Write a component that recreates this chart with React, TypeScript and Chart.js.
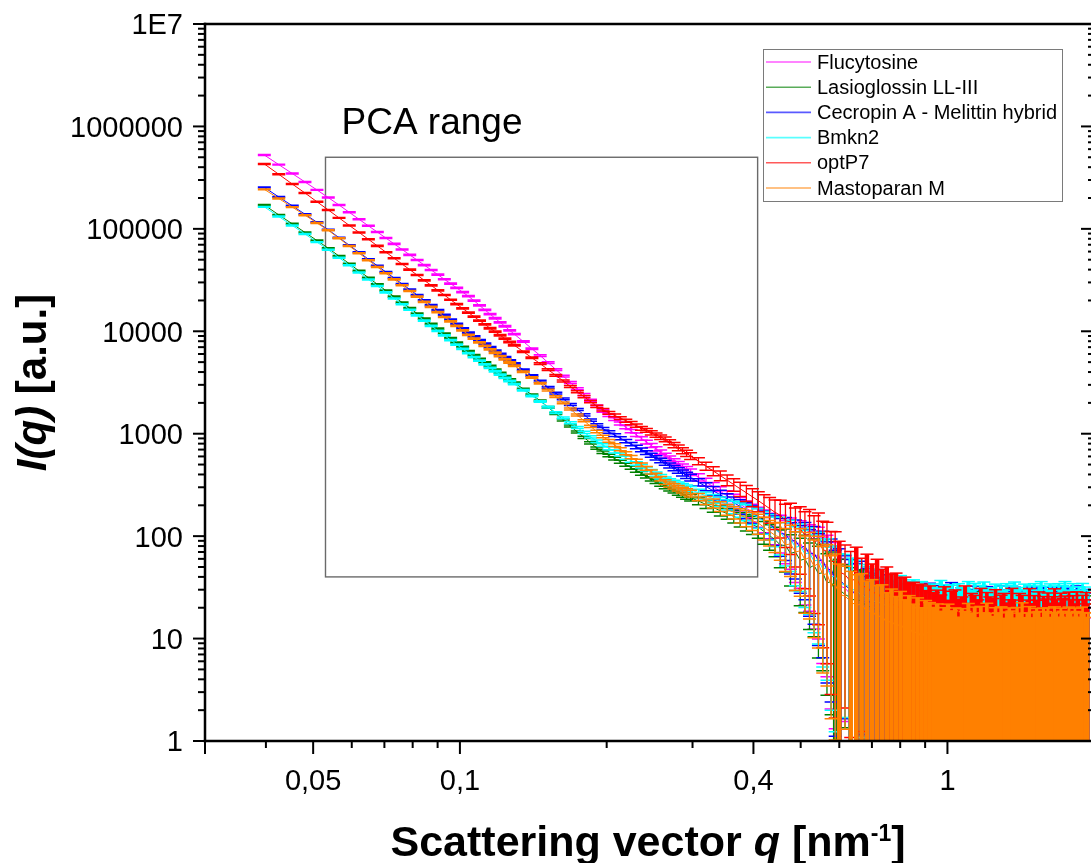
import { useEffect, useRef } from "react";
import { Chart, registerables } from "chart.js";

Chart.register(...registerables);

const FONT = "'Liberation Sans', Arial, Helvetica, sans-serif";

// Scattering vector q [nm^-1] (shared grid of all six curves)
const Q = [
  0.0397, 0.0425, 0.0453, 0.0481, 0.0509, 0.0537, 0.0565, 0.0593, 0.0621, 0.0649,
  0.0677, 0.0705, 0.0733, 0.0761, 0.0789, 0.0817, 0.0845, 0.0873, 0.0901, 0.0929,
  0.0957, 0.0985, 0.1013, 0.1041, 0.1069, 0.1097, 0.1125, 0.1153, 0.1181, 0.1209,
  0.1237, 0.1265, 0.1293,
  0.1349, 0.1405, 0.1461, 0.1517, 0.1573, 0.1629, 0.1685, 0.1741, 0.1797, 0.1853,
  0.1909, 0.1965, 0.2021, 0.2077, 0.2133, 0.2189, 0.2245, 0.2301, 0.2357, 0.2413,
  0.2469, 0.2525, 0.2581, 0.2637, 0.2693, 0.2749, 0.2805, 0.2861, 0.2917, 0.2973,
  0.3085, 0.3197, 0.3309, 0.3421, 0.3533, 0.3645, 0.3757, 0.3869, 0.3981, 0.4093,
  0.4205, 0.4317, 0.4429, 0.4541, 0.4653, 0.4765, 0.4877, 0.4989, 0.5101, 0.5213,
  0.5325, 0.5437, 0.5549, 0.5661, 0.5773, 0.5885, 0.5997,
  0.6165, 0.6333, 0.6501, 0.6669, 0.6837, 0.7005, 0.7173, 0.7341, 0.7509, 0.7677,
  0.7845, 0.8013, 0.8181, 0.8349, 0.8517, 0.8685, 0.8853, 0.9021, 0.9189, 0.9357,
  0.9525, 0.9693, 0.9861, 1.0029, 1.0197, 1.0365, 1.0533, 1.0701, 1.0869, 1.1037,
  1.1205, 1.1373, 1.1541, 1.1709, 1.1877, 1.2045, 1.2213, 1.2381, 1.2549, 1.2717,
  1.2885, 1.3053, 1.3221, 1.3389, 1.3557, 1.3725, 1.3893, 1.4061, 1.4229, 1.4397,
  1.4565, 1.4733, 1.4901, 1.5069, 1.5237, 1.5405, 1.5573, 1.5741, 1.5909, 1.6077,
  1.6245, 1.6413, 1.6581, 1.6749, 1.6917, 1.7085, 1.7253, 1.7421, 1.7589, 1.7757,
  1.7925, 1.8093, 1.8261, 1.8429, 1.8597, 1.8765, 1.8933, 1.9101, 1.9269, 1.9437,
];

// Relative uncertainty of I(q) at each q
const REL_ERR = [
  0.010, 0.010, 0.010, 0.010, 0.010, 0.011, 0.011, 0.011, 0.011, 0.011,
  0.012, 0.012, 0.012, 0.012, 0.012, 0.012, 0.013, 0.013, 0.013, 0.013,
  0.013, 0.013, 0.014, 0.014, 0.014, 0.014, 0.014, 0.015, 0.015, 0.015,
  0.015, 0.016, 0.016,
  0.016, 0.017, 0.018, 0.019, 0.020, 0.021, 0.022, 0.023, 0.024, 0.026,
  0.027, 0.028, 0.030, 0.032, 0.033, 0.035, 0.037, 0.039, 0.041, 0.043,
  0.046, 0.048, 0.051, 0.054, 0.057, 0.060, 0.063, 0.067, 0.071, 0.075,
  0.08, 0.09, 0.10, 0.11, 0.12, 0.14, 0.16, 0.18, 0.20, 0.22,
  0.25, 0.28, 0.32, 0.40, 0.45, 0.52, 0.58, 0.64, 0.70, 0.75,
  0.80, 0.85, 0.89, 0.92, 0.95, 0.97, 0.98,
  0.95, 0.97, 1.00, 0.96, 1.02, 0.98, 1.05, 0.97, 1.00, 1.03,
  0.98, 1.06, 0.99, 1.02, 0.97, 1.08, 1.00, 0.96, 1.04, 1.01,
  0.98, 1.05, 1.00, 0.97, 1.07, 0.99, 1.02, 0.96, 1.04, 1.00,
  0.97, 1.03, 0.99, 1.06, 0.98, 1.01, 0.96, 1.05, 1.00, 0.98,
  1.04, 0.97, 1.02, 0.99, 1.06, 0.98, 1.01, 0.97, 1.03, 1.00,
  0.98, 1.05, 0.99, 1.02, 0.97, 1.04, 1.00, 0.98, 1.03, 0.99,
  1.01, 0.97, 1.04, 0.99, 1.02, 0.98, 1.05, 1.00, 0.97, 1.03,
  0.99, 1.02, 0.98, 1.04, 1.00, 0.97, 1.03, 0.99, 1.01, 0.98,
];

// I(q) [a.u.] per sample
const FLUCYTOSINE = [
  526000, 424000, 347000, 287000, 240000,
  202000, 171000, 145000, 124000, 107000, 93100, 81300, 71300, 62900, 55700, 49600, 44300, 39700, 35700, 32200, 29200, 26500, 24100, 22000,
  19900, 17900, 16200, 14700, 13400, 12200, 11200, 10200, 9380, 7940, 6760,
  5790, 4940, 4230, 3650, 3160, 2750, 2410, 2110, 1860,
  1670, 1520, 1390, 1260, 1160, 1060, 976, 899, 829, 767, 711, 659, 613,
  573, 538, 505, 475, 448, 422, 376, 337, 303, 273, 248, 225, 205, 187, 171,
  157, 144, 131, 121, 114, 98, 99, 84, 86, 71, 74, 62, 66,
  52, 53, 41, 44, 33,
  31, 27, 29, 24, 22, 23, 19, 20, 17, 18,
  15, 16, 14, 15, 12, 14, 13, 11, 13, 12,
  10, 12, 11, 13, 9, 12, 11, 10, 13, 9,
  11, 12, 10, 8, 12, 11, 9, 13, 10, 11,
  9, 12, 10, 8, 11, 12, 9, 10, 13, 8,
  11, 10, 12, 9, 10, 11, 8, 12, 10, 9,
  11, 13, 9, 10, 8, 12, 11, 9, 10, 12,
  8, 11, 10, 9, 12, 10, 11, 8, 10, 12,
];

const LASIOGLOSSIN = [
  171000, 137000, 112000, 92300, 77000,
  64700, 54200, 45700, 38900, 33400, 28800, 25000, 21800, 19100, 16900, 14900, 13300, 11800, 10600, 9520, 8580, 7760, 7040, 6400,
  5860, 5380, 4960, 4580, 4230, 3920, 3640, 3380, 3150, 2740, 2400,
  2100, 1810, 1570, 1360, 1190, 1040, 920, 814, 723,
  660, 613, 571, 533, 498, 466, 437, 410, 386, 363, 343, 323, 306,
  292, 280, 268, 257, 247, 238, 220, 204, 190, 177, 166, 156, 146, 137, 130,
  122, 111, 101, 92.5, 82, 81, 68, 70, 58, 60, 49, 52, 43,
  44, 35, 36, 29, 30,
  27, 25, 23, 24, 20, 21, 18, 19, 17, 16,
  17, 15, 16, 14, 15, 13, 14, 15, 12, 14,
  13, 12, 14, 11, 13, 12, 14, 11, 13, 12,
  11, 13, 12, 14, 11, 12, 13, 10, 12, 13,
  12, 11, 13, 12, 10, 13, 12, 11, 14, 12,
  11, 13, 12, 10, 12, 13, 11, 12, 10, 13,
  12, 11, 13, 12, 11, 10, 13, 12, 11, 12,
  13, 11, 12, 10, 12, 13, 11, 12, 13, 11,
];

const CECROPIN_MELITTIN = [
  254000, 205000, 168000, 139000, 116000,
  97900, 82000, 69200, 59000, 50600, 43600, 37900, 33100, 29000, 25600, 22600, 20100, 18000, 16100, 14500, 13000, 11800, 10700, 9730,
  8920, 8210, 7570, 7000, 6480, 6010, 5580, 5190, 4840, 4220, 3710,
  3260, 2840, 2490, 2190, 1930, 1720, 1530, 1360, 1220,
  1120, 1040, 970, 905, 846, 791, 742, 697, 655, 617, 582, 549, 519,
  490, 463, 438, 415, 393, 373, 336, 305, 277, 253, 231, 212, 195, 180, 166,
  153, 141, 129, 119, 106, 105, 89, 91, 77, 80, 66, 69, 57,
  59, 46, 48, 37, 38,
  33, 30, 27, 29, 24, 22, 23, 20, 21, 18,
  19, 17, 18, 16, 17, 15, 16, 14, 17, 15,
  14, 16, 13, 15, 17, 14, 13, 16, 14, 15,
  13, 16, 14, 12, 15, 16, 13, 14, 15, 13,
  16, 14, 13, 15, 14, 16, 12, 15, 14, 13,
  15, 14, 16, 13, 14, 15, 13, 16, 14, 12,
  14, 15, 13, 16, 14, 13, 15, 14, 16, 13,
  15, 13, 14, 16, 13, 15, 14, 12, 15, 14,
];

const BMKN2 = [
  164000, 132000, 108000, 89100, 74300,
  62500, 52300, 44100, 37500, 32100, 27700, 24000, 20900, 18400, 16200, 14300, 12700, 11300, 10100, 9110, 8210, 7420, 6720, 6110,
  5600, 5160, 4760, 4400, 4070, 3780, 3510, 3270, 3050, 2660, 2340,
  2060, 1820, 1610, 1430, 1280, 1150, 1030, 932, 844,
  776, 720, 671, 626, 585, 547, 513, 482, 453, 427, 403, 380, 359,
  344, 331, 318, 306, 295, 284, 265, 247, 232, 217, 204, 192, 182, 172, 162,
  153, 139, 127, 116, 109, 93, 94, 78, 80, 67, 69, 57, 59,
  48, 49, 40, 41, 34,
  34, 31, 29, 27, 25, 24, 22, 23, 20, 21,
  19, 20, 18, 17, 19, 16, 18, 17, 15, 17,
  16, 18, 15, 17, 16, 14, 17, 16, 15, 18,
  15, 17, 14, 16, 18, 15, 16, 14, 17, 15,
  16, 15, 17, 14, 16, 18, 15, 16, 14, 17,
  15, 16, 14, 17, 15, 16, 18, 14, 16, 15,
  17, 15, 16, 14, 17, 15, 16, 18, 15, 14,
  16, 17, 15, 14, 16, 15, 17, 16, 14, 15,
];

const OPTP7 = [
  430000, 341000, 274000, 224000, 184000,
  153000, 128000, 108000, 92300, 79100, 68200, 59200, 51700, 45300, 40000, 35400, 31400, 28100, 25100, 22600, 20300, 18400, 16700, 15200,
  13900, 12700, 11700, 10700, 9910, 9150, 8470, 7850, 7300, 6320, 5510,
  4830, 4220, 3710, 3270, 2890, 2570, 2300, 2060, 1850,
  1710, 1600, 1510, 1420, 1340, 1270, 1200, 1130, 1080, 1020, 971, 924, 880,
  828, 776, 728, 684, 644, 606, 540, 482, 433, 390, 352, 319, 290, 265, 242,
  222, 203, 186, 171, 160, 141, 138, 119, 118, 102, 104, 88, 91,
  74, 71, 57, 56, 45,
  42, 36, 39, 31, 33, 27, 29, 24, 25, 21,
  22, 19, 20, 17, 18, 16, 17, 15, 16, 14,
  15, 13, 16, 12, 14, 15, 12, 13, 16, 11,
  14, 13, 12, 15, 11, 14, 13, 12, 15, 10,
  13, 14, 11, 12, 15, 12, 10, 14, 13, 11,
  12, 15, 11, 13, 12, 14, 10, 13, 12, 14,
  11, 13, 15, 12, 11, 14, 12, 13, 10, 14,
  12, 13, 11, 14, 12, 10, 13, 12, 14, 11,
];

const MASTOPARAN_M = [
  243000, 198000, 163000, 136000, 114000,
  96700, 80800, 68000, 57800, 49400, 42500, 36800, 32100, 28100, 24700, 21800, 19400, 17300, 15400, 13800, 12500, 11300, 10200, 9250,
  8480, 7810, 7200, 6660, 6170, 5720, 5310, 4950, 4610, 4030, 3540,
  3110, 2670, 2300, 2000, 1740, 1520, 1340, 1180, 1050,
  939, 851, 775, 706, 645, 591, 542, 498, 459, 424, 392, 363, 337,
  320, 307, 294, 282, 271, 261, 241, 224, 209, 195, 182, 171, 160, 151, 142,
  134, 122, 111, 102, 97, 82, 84, 70, 72, 59, 62, 51, 54,
  42, 43, 33, 34, 27,
  26, 23, 21, 22, 18, 19, 16, 17, 14, 15,
  13, 14, 12, 13, 11, 12, 10, 12, 11, 10,
  11, 9, 10, 11, 9, 10, 8, 10, 9, 11,
  9, 10, 8, 10, 9, 11, 9, 8, 10, 9,
  10, 8, 9, 10, 9, 8, 10, 9, 11, 8,
  9, 10, 8, 9, 10, 9, 8, 10, 9, 10,
  8, 9, 10, 9, 8, 10, 9, 8, 9, 10,
  9, 8, 10, 9, 8, 9, 10, 9, 8, 9,
];

const SERIES_VALUES = [FLUCYTOSINE, LASIOGLOSSIN, CECROPIN_MELITTIN, BMKN2, OPTP7, MASTOPARAN_M];
const SERIES_NAMES = ["Flucytosine", "Lasioglossin LL-III", "Cecropin A - Melittin hybrid", "Bmkn2", "optP7", "Mastoparan M"];
const SERIES_COLORS = ["#ff00ff", "#008000", "#0000ff", "#00ffff", "#ff0000", "#ff8000"];

const X_MIN = 0.03;
const X_MAX = 1.97;
const Y_MIN = 1;
const Y_MAX = 1e7;
const X_TICKS = [0.05, 0.1, 0.4, 1];
const X_TICK_LABELS = ["0,05", "0,1", "0,4", "1"];
const X_MINOR_TICKS = [0.04, 0.06, 0.07, 0.08, 0.09, 0.2, 0.3, 0.5, 0.6, 0.7, 0.8, 0.9];
const Y_TICKS = [1, 10, 100, 1000, 10000, 100000, 1000000, 10000000];
const Y_TICK_LABELS = ["1", "10", "100", "1000", "10000", "100000", "1000000", "1E7"];
const PCA_Q_RANGE = [0.053, 0.408];
const PCA_I_RANGE = [40, 500000];
const PCA_LABEL = "PCA range";

type Seg = { text: string; font: string; dy?: number };

function drawRich(ctx: CanvasRenderingContext2D, segs: Seg[], cx: number, by: number) {
  const widths = segs.map((s) => {
    ctx.font = s.font;
    return ctx.measureText(s.text).width;
  });
  const total = widths.reduce((a, b) => a + b, 0);
  let x = cx - total / 2;
  ctx.textAlign = "left";
  ctx.textBaseline = "alphabetic";
  segs.forEach((s, i) => {
    ctx.font = s.font;
    ctx.fillText(s.text, x, by + (s.dy || 0));
    x += widths[i];
  });
}

const decorPlugin = {
  id: "decor",
  beforeDatasetsDraw(chart: any) {
    const { ctx } = chart;
    const xs = chart.scales.x;
    const ys = chart.scales.y;
    const x1 = xs.getPixelForValue(PCA_Q_RANGE[0]);
    const x2 = xs.getPixelForValue(PCA_Q_RANGE[1]);
    const y1 = ys.getPixelForValue(PCA_I_RANGE[1]);
    const y2 = ys.getPixelForValue(PCA_I_RANGE[0]);
    ctx.save();
    ctx.strokeStyle = "#6a6a6a";
    ctx.lineWidth = 1.4;
    ctx.strokeRect(x1, y1, x2 - x1, y2 - y1);
    ctx.fillStyle = "#000";
    ctx.font = `37px ${FONT}`;
    ctx.textAlign = "left";
    ctx.textBaseline = "alphabetic";
    ctx.fillText(PCA_LABEL, x1 + 16, y1 - 23);
    ctx.restore();
  },
  afterDatasetDraw(chart: any, args: any) {
    const ds: any = chart.data.datasets[args.index];
    const { ctx, chartArea: ca } = chart;
    const xs = chart.scales.x;
    const ys = chart.scales.y;
    const pts = ds.data;
    const errs = ds.errors;
    ctx.save();
    ctx.beginPath();
    ctx.rect(ca.left, ca.top, ca.right - ca.left, ca.bottom - ca.top);
    ctx.clip();
    ctx.strokeStyle = ds.borderColor;
    ctx.lineCap = "butt";
    for (let i = 0; i < pts.length; i++) {
      const q = pts[i].x;
      const v = pts[i].y;
      const e = errs[i];
      const px = xs.getPixelForValue(q);
      const hi = v + e;
      const lo = v - e;
      const yTop = ys.getPixelForValue(hi);
      const clipped = lo <= Y_MIN;
      const yBot = clipped ? ca.bottom + 3 : ys.getPixelForValue(lo);
      const nb = i < pts.length - 1 ? xs.getPixelForValue(pts[i + 1].x) : 2 * px - xs.getPixelForValue(pts[i - 1].x);
      const dx = Math.abs(nb - px);
      ctx.lineWidth = clipped ? Math.min(4.5, Math.max(1.3, dx + 0.8)) : 1.3;
      ctx.beginPath();
      ctx.moveTo(px, yTop);
      ctx.lineTo(px, yBot);
      ctx.stroke();
      ctx.lineWidth = 1.5;
      ctx.beginPath();
      ctx.moveTo(px - 6.5, yTop);
      ctx.lineTo(px + 6.5, yTop);
      if (!clipped) {
        ctx.moveTo(px - 6.5, yBot);
        ctx.lineTo(px + 6.5, yBot);
      }
      ctx.stroke();
    }
    ctx.restore();
  },
  afterDraw(chart: any) {
    const { ctx, chartArea: ca } = chart;
    const xs = chart.scales.x;
    const ys = chart.scales.y;
    ctx.save();
    ctx.strokeStyle = "#000";
    const line = (a: number, b: number, c: number, d: number) => {
      ctx.beginPath();
      ctx.moveTo(a, b);
      ctx.lineTo(c, d);
      ctx.stroke();
    };
    // frame
    ctx.lineWidth = 2.5;
    line(ca.left, ca.top - 1.25, ca.left, ca.bottom + 1.25);
    line(ca.left - 1.25, ca.bottom, ca.right + 2, ca.bottom);
    line(ca.left - 1.25, ca.top, ca.right + 2, ca.top);
    line(ca.right + 1.5, ca.top, ca.right + 1.5, ca.bottom);
    // y ticks + labels
    ctx.lineWidth = 2;
    ctx.fillStyle = "#000";
    ctx.font = `29px ${FONT}`;
    for (let k = 0; k < Y_TICKS.length; k++) {
      const y = ys.getPixelForValue(Y_TICKS[k]);
      line(ca.left - 12, y, ca.left, y);
      line(ca.right - 10, y, ca.right, y);
      ctx.textAlign = "right";
      ctx.textBaseline = "alphabetic";
      ctx.fillText(Y_TICK_LABELS[k], ca.left - 22, y + 10.4);
      if (k < Y_TICKS.length - 1) {
        for (let m = 2; m <= 9; m++) {
          const ym = ys.getPixelForValue(Y_TICKS[k] * m);
          line(ca.left - 7, ym, ca.left, ym);
          line(ca.right - 3, ym, ca.right, ym);
        }
      }
    }
    // x ticks + labels
    const x0 = xs.getPixelForValue(X_MIN);
    line(x0, ca.bottom, x0, ca.bottom + 13);
    X_TICKS.forEach((v, i) => {
      const x = xs.getPixelForValue(v);
      line(x, ca.bottom, x, ca.bottom + 13);
      ctx.textAlign = "center";
      ctx.textBaseline = "alphabetic";
      ctx.fillText(X_TICK_LABELS[i], x, ca.bottom + 49);
    });
    X_MINOR_TICKS.forEach((v) => {
      const x = xs.getPixelForValue(v);
      line(x, ca.bottom, x, ca.bottom + 7);
    });

    // legend
    const lx = ca.right - 328;
    const ly = ca.top + 25;
    const lw = 299;
    const lh = 152;
    ctx.fillStyle = "#fff";
    ctx.fillRect(lx, ly, lw, lh);
    ctx.strokeStyle = "#7a7a7a";
    ctx.lineWidth = 1;
    ctx.strokeRect(lx + 0.5, ly + 0.5, lw, lh);
    ctx.font = `20px ${FONT}`;
    ctx.textAlign = "left";
    ctx.textBaseline = "middle";
    chart.data.datasets.forEach((ds: any, i: number) => {
      const ry = ly + 13 + 25.2 * i;
      ctx.strokeStyle = ds.borderColor;
      ctx.globalAlpha = 0.65;
      ctx.lineWidth = 1.6;
      line(lx + 3, ry, lx + 48, ry);
      ctx.globalAlpha = 1;
      ctx.fillStyle = "#000";
      ctx.fillText(ds.label, lx + 54, ry + 1);
    });

    // axis titles
    ctx.fillStyle = "#000";
    drawRich(
      ctx,
      [
        { text: "Scattering vector ", font: `bold 43px ${FONT}` },
        { text: "q", font: `italic bold 43px ${FONT}` },
        { text: " [nm", font: `bold 43px ${FONT}` },
        { text: "-1", font: `bold 23px ${FONT}`, dy: -15 },
        { text: "]", font: `bold 43px ${FONT}` },
      ],
      (ca.left + ca.right) / 2,
      856
    );
    ctx.save();
    ctx.translate(46, (ca.top + ca.bottom) / 2);
    ctx.rotate(-Math.PI / 2);
    drawRich(
      ctx,
      [
        { text: "I(q)", font: `italic bold 42px ${FONT}` },
        { text: " [a.u.]", font: `bold 42px ${FONT}` },
      ],
      0,
      0
    );
    ctx.restore();
    ctx.restore();
  },
};

export default function App() {
  const canvasRef = useRef<HTMLCanvasElement | null>(null);

  useEffect(() => {
    const canvas = canvasRef.current;
    if (!canvas) return;
    const n = SERIES_VALUES.length;
    const datasets = SERIES_VALUES.map((vals, s) => {
      const len = Math.min(vals.length, Q.length, REL_ERR.length);
      const data = [];
      const errors = [];
      for (let i = 0; i < len; i++) {
        data.push({ x: Q[i], y: vals[i] });
        errors.push(vals[i] * REL_ERR[i]);
      }
      return {
        label: SERIES_NAMES[s],
        data,
        errors,
        borderColor: SERIES_COLORS[s],
        backgroundColor: SERIES_COLORS[s],
        borderWidth: 1,
        pointRadius: 0,
        pointHoverRadius: 0,
        fill: false,
        tension: 0,
        order: n - 1 - s,
      };
    });

    const chart = new Chart(canvas, {
      type: "line",
      data: { datasets: datasets as any },
      options: {
        animation: false,
        responsive: false,
        parsing: false,
        events: [],
        layout: { padding: { top: 24, right: 0, left: 0, bottom: 0 } },
        plugins: {
          legend: { display: false },
          tooltip: { enabled: false },
          title: { display: false },
        },
        scales: {
          x: {
            type: "logarithmic",
            min: X_MIN,
            max: X_MAX,
            grid: { display: false, drawTicks: false },
            border: { display: false },
            afterFit: (scale: any) => {
              scale.height = 122;
            },
            ticks: { display: false },
          },
          y: {
            type: "logarithmic",
            min: Y_MIN,
            max: Y_MAX,
            grid: { display: false, drawTicks: false },
            border: { display: false },
            afterFit: (scale: any) => {
              scale.width = 205;
            },
            ticks: { display: false },
          },
        },
      } as any,
      plugins: [decorPlugin],
    });
    return () => chart.destroy();
  }, []);

  return (
    <div style={{ position: "absolute", left: 0, top: 0, width: 1091, height: 863, background: "#fff" }}>
      <canvas ref={canvasRef} width={1091} height={863} style={{ display: "block", width: 1091, height: 863 }} />
    </div>
  );
}
